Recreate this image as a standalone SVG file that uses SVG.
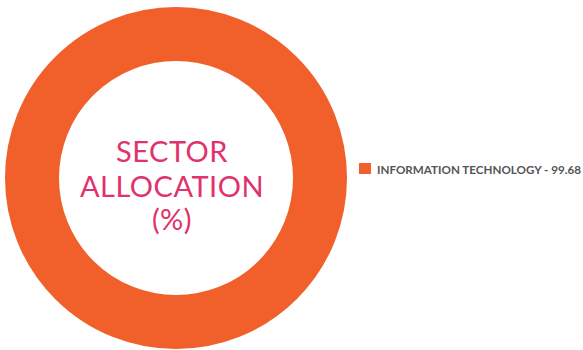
<svg xmlns="http://www.w3.org/2000/svg" width="583" height="350" viewBox="0 0 583 350">
<style>
.ring{fill:none;stroke:#f15f2a;stroke-width:54}
.title{font-family:Lato,"Liberation Sans",sans-serif;font-size:29px;fill:#e0326c;text-anchor:middle;letter-spacing:0.5px}
.leg{font-family:Lato,"Liberation Sans",sans-serif;font-size:11.5px;font-weight:bold;fill:#555555}
</style>
<rect width="583" height="350" fill="#ffffff"/>
<g id="donut">
<circle class="ring" cx="176" cy="178" r="144"/>
</g>
<g id="center-label">
<text class="title" x="172" y="162">SECTOR</text>
<text class="title" x="172" y="197">ALLOCATION</text>
<text class="title" x="172" y="230">(%)</text>
</g>
<g id="legend">
<rect x="359" y="163" width="12" height="11" fill="#f15f2a"/>
<text class="leg" x="377" y="174" textLength="204" lengthAdjust="spacingAndGlyphs">INFORMATION TECHNOLOGY - 99.68</text>
</g>
<g id="connectors"/>
</svg>
